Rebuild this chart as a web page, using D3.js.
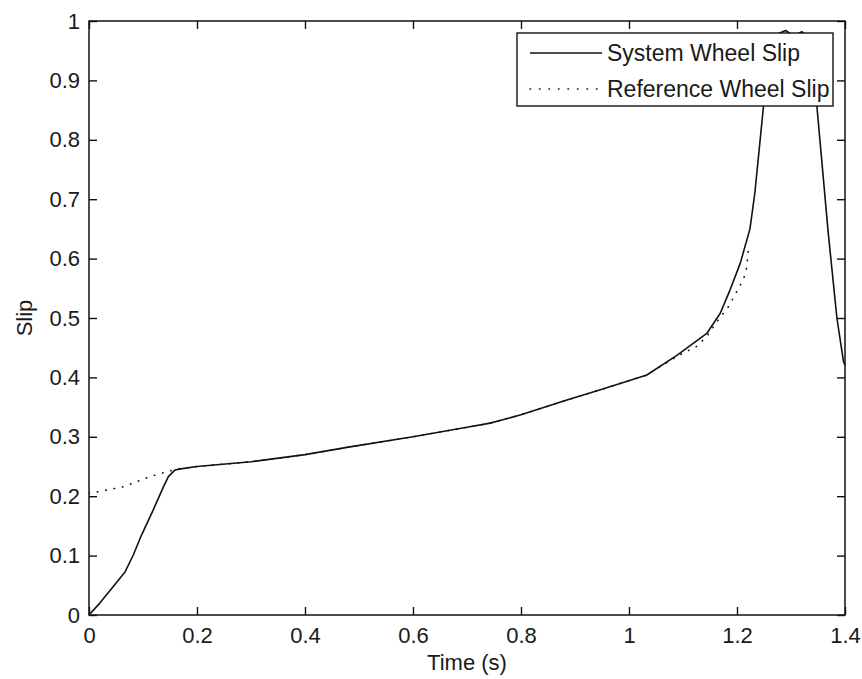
<!DOCTYPE html>
<html>
<head>
<meta charset="utf-8">
<script src="https://cdn.jsdelivr.net/npm/d3@7"></script>
<style>
  html, body { margin: 0; padding: 0; background: #fff; }
  svg { display: block; }
  text { font-family: "Liberation Sans", Arial, sans-serif; fill: #1a1a1a; }
</style>
</head>
<body>
<svg id="chart" width="862" height="679"></svg>
<script>
// Wheel slip time histories
const sysTime = [0, 0.02, 0.045, 0.067, 0.082, 0.0975, 0.119, 0.138, 0.147, 0.159, 0.17, 0.2, 0.3, 0.4, 0.483, 0.6, 0.7, 0.743, 0.8, 0.885, 0.95, 1.033, 1.09, 1.144, 1.169, 1.187, 1.206, 1.224, 1.233, 1.249, 1.262, 1.275, 1.29, 1.305, 1.32, 1.335, 1.348, 1.369, 1.385, 1.397, 1.4];
const sysSlip = [0, 0.02, 0.048, 0.073, 0.101, 0.135, 0.177, 0.216, 0.233, 0.244, 0.246, 0.25, 0.258, 0.27, 0.283, 0.30, 0.316, 0.323, 0.337, 0.362, 0.38, 0.404, 0.438, 0.474, 0.508, 0.547, 0.592, 0.65, 0.71, 0.856, 0.972, 0.978, 0.984, 0.975, 0.982, 0.97, 0.856, 0.643, 0.5, 0.428, 0.42];

const refTime = [0, 0.014, 0.064, 0.113, 0.147, 0.165, 0.2, 0.3, 0.4, 0.483, 0.6, 0.7, 0.743, 0.8, 0.885, 0.95, 1.033, 1.09, 1.125, 1.145, 1.16, 1.184, 1.2, 1.212, 1.218, 1.222];
const refSlip = [0.205, 0.207, 0.216, 0.233, 0.242, 0.246, 0.25, 0.258, 0.27, 0.283, 0.30, 0.316, 0.323, 0.337, 0.362, 0.38, 0.404, 0.436, 0.452, 0.47, 0.49, 0.519, 0.545, 0.565, 0.585, 0.625];

const xTicks = [0, 0.2, 0.4, 0.6, 0.8, 1, 1.2, 1.4];
const yTicks = [0, 0.1, 0.2, 0.3, 0.4, 0.5, 0.6, 0.7, 0.8, 0.9, 1];
const seriesNames = ["System Wheel Slip", "Reference Wheel Slip"];

const svg = d3.select("#chart");
const plot = { left: 89, right: 845, top: 21, bottom: 615 };

const x = d3.scaleLinear().domain([0, 1.4]).range([plot.left, plot.right]);
const y = d3.scaleLinear().domain([0, 1]).range([plot.bottom, plot.top]);

const fmt = d => d3.format("~g")(d);
const tickLen = 8;

// Curves
const line = d3.line().x(d => x(d[0])).y(d => y(d[1]));
const sysData = sysTime.map((t, i) => [t, sysSlip[i]]);
const refData = refTime.map((t, i) => [t, refSlip[i]]);

svg.append("clipPath").attr("id", "plotClip")
  .append("rect")
  .attr("x", plot.left).attr("y", plot.top - 2)
  .attr("width", plot.right - plot.left + 1).attr("height", plot.bottom - plot.top + 4);

const curves = svg.append("g").attr("clip-path", "url(#plotClip)");
curves.append("path").datum(refData)
  .attr("d", line).attr("fill", "none")
  .attr("stroke", "#111").attr("stroke-width", 1.6)
  .attr("stroke-linecap", "round")
  .attr("stroke-dasharray", "0.5,8");
curves.append("path").datum(sysData)
  .attr("d", line).attr("fill", "none")
  .attr("stroke", "#111").attr("stroke-width", 1.6)
  .attr("stroke-linejoin", "round");

// Axes with inward ticks, mirrored on the top and right edges
const axisStyle = g => {
  g.select(".domain").remove();
  g.selectAll(".tick line").attr("stroke", "#111").attr("stroke-width", 1.4);
  g.selectAll(".tick text").attr("font-size", 22).attr("fill", "#1a1a1a")
    .attr("font-family", "\"Liberation Sans\", Arial, sans-serif");
};

svg.append("g").attr("transform", `translate(0,${plot.bottom})`)
  .call(d3.axisBottom(x).tickValues(xTicks).tickFormat(fmt).tickSizeInner(-tickLen).tickSizeOuter(0).tickPadding(12))
  .call(axisStyle)
  .call(g => g.selectAll(".tick text").attr("dy", "0.71em"));

svg.append("g").attr("transform", `translate(0,${plot.top})`)
  .call(d3.axisTop(x).tickValues(xTicks).tickFormat("").tickSizeInner(-tickLen).tickSizeOuter(0))
  .call(axisStyle);

svg.append("g").attr("transform", `translate(${plot.left},0)`)
  .call(d3.axisLeft(y).tickValues(yTicks).tickFormat(fmt).tickSizeInner(-tickLen).tickSizeOuter(0).tickPadding(9))
  .call(axisStyle);

svg.append("g").attr("transform", `translate(${plot.right},0)`)
  .call(d3.axisRight(y).tickValues(yTicks).tickFormat("").tickSizeInner(-tickLen).tickSizeOuter(0))
  .call(axisStyle);

// Axes box
svg.append("rect")
  .attr("x", plot.left).attr("y", plot.top)
  .attr("width", plot.right - plot.left).attr("height", plot.bottom - plot.top)
  .attr("fill", "none").attr("stroke", "#111").attr("stroke-width", 1.5);

// Axis labels
svg.append("text")
  .attr("x", (plot.left + plot.right) / 2).attr("y", 670)
  .attr("text-anchor", "middle").attr("font-size", 22)
  .text("Time (s)");

svg.append("text")
  .attr("transform", `translate(32,${(plot.top + plot.bottom) / 2}) rotate(-90)`)
  .attr("text-anchor", "middle").attr("font-size", 22)
  .text("Slip");

// Legend
const legend = svg.append("g");
legend.append("rect")
  .attr("x", 517).attr("y", 33).attr("width", 316).attr("height", 73)
  .attr("fill", "#fff").attr("stroke", "#111").attr("stroke-width", 1.4);

const rows = [
  { name: seriesNames[0], dash: null, yPos: 53 },
  { name: seriesNames[1], dash: "0.5,9", yPos: 89 }
];
rows.forEach(r => {
  const ln = legend.append("line")
    .attr("x1", 530).attr("x2", 602).attr("y1", r.yPos).attr("y2", r.yPos)
    .attr("stroke", "#111").attr("stroke-width", r.dash ? 1.6 : 1.5)
    .attr("stroke-linecap", r.dash ? "round" : "butt");
  if (r.dash) ln.attr("stroke-dasharray", r.dash);
  legend.append("text")
    .attr("x", 607).attr("y", r.yPos + 8)
    .attr("font-size", 23)
    .text(r.name);
});
</script>
</body>
</html>
